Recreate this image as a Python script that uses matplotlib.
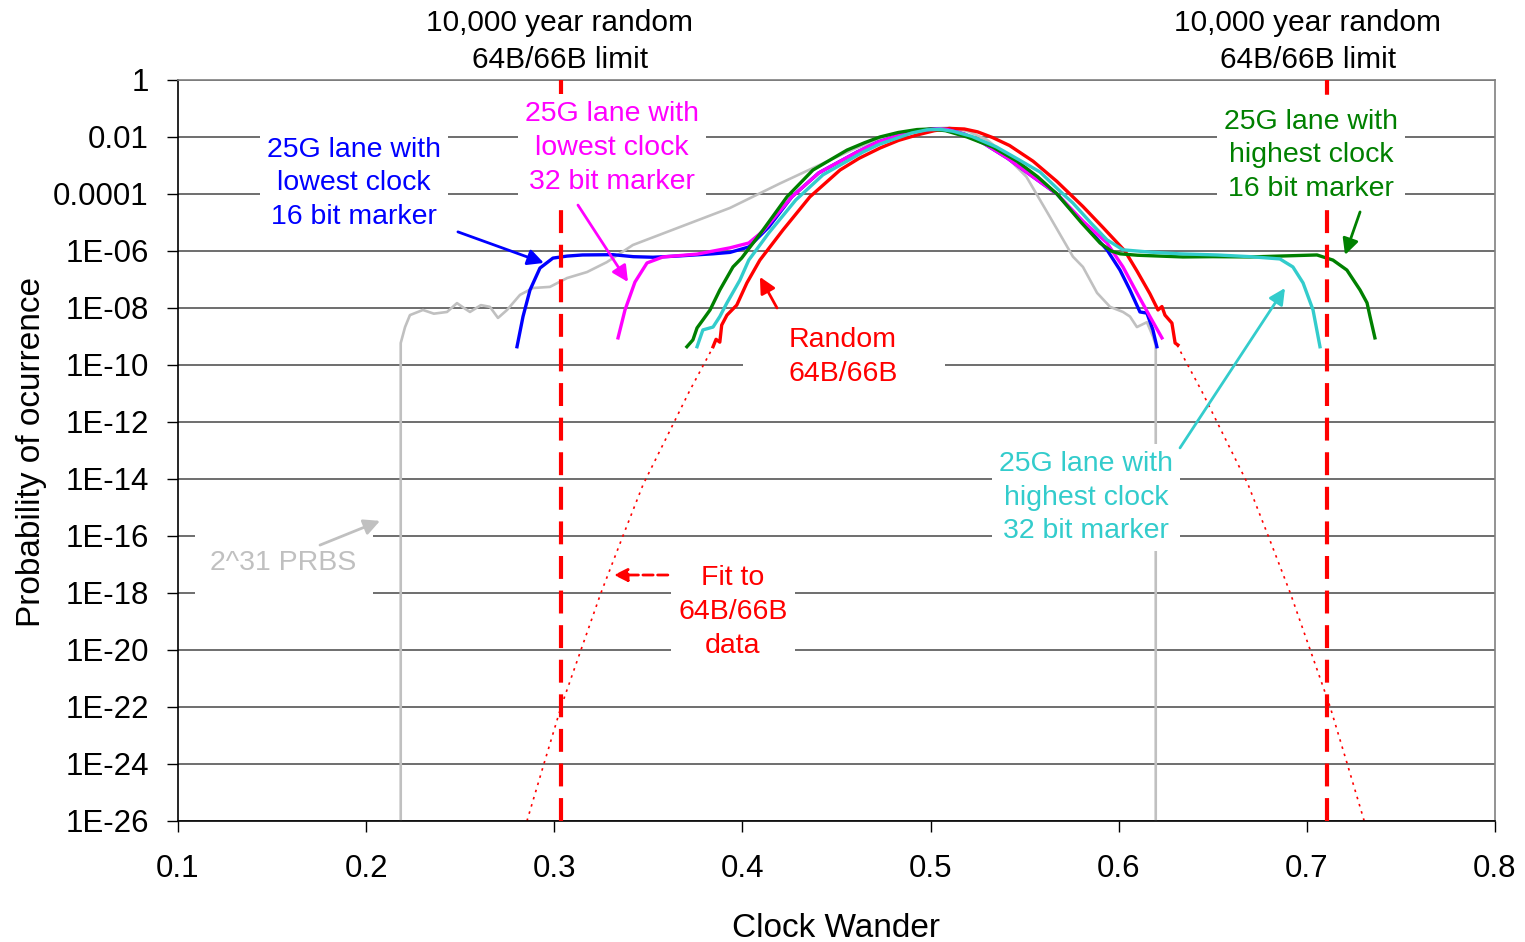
# -*- coding: utf-8 -*-
"""
Clock wander distribution of 25G lanes with alignment markers
compared with random 64B/66B data (log probability plot)
"""
# =============================     Import modules     =====================
import numpy as np
import matplotlib
matplotlib.use('Agg')
import matplotlib.pyplot as plt
from matplotlib.ticker import FixedLocator, NullLocator
from matplotlib.patches import Rectangle

# =============================     Data     ==============
# -- x = clock wander, exp = log10(probability of occurrence)
prbs_x   = [0.2184, 0.2184, 0.2207, 0.2233, 0.2302, 0.2360, 0.2430, 0.2483,
            0.2520, 0.2552, 0.2610, 0.2658, 0.2701, 0.2749, 0.2818, 0.2887,
            0.2977, 0.3068, 0.3174, 0.3280, 0.3418, 0.3668, 0.3934, 0.4200,
            0.4466, 0.4600, 0.4750, 0.4900, 0.5000, 0.5100, 0.5200, 0.5300,
            0.5370, 0.5510, 0.5635, 0.5757, 0.5810, 0.5885, 0.5954, 0.6023,
            0.6060, 0.6097, 0.6150, 0.6182, 0.6197, 0.6197]
prbs_exp = [-26.0, -9.23, -8.67, -8.25, -8.07, -8.20, -8.14, -7.83,
            -8.00, -8.14, -7.90, -7.96, -8.35, -8.07, -7.54, -7.30,
            -7.26, -6.95, -6.74, -6.39, -5.79, -5.16, -4.49, -3.63,
            -2.81, -2.40, -2.05, -1.80, -1.70, -1.68, -1.80, -2.10,
            -2.46, -3.40, -4.81, -6.20, -6.56, -7.47, -7.96, -8.14,
            -8.30, -8.67, -8.50, -9.00, -9.30, -26.0]

rnd_x   = [0.3844, 0.3860, 0.3880, 0.3890, 0.3918, 0.3970, 0.4024, 0.4093,
           0.4216, 0.4359, 0.4519, 0.4620, 0.4731, 0.4830, 0.4928, 0.5020,
           0.5100, 0.5180, 0.5250, 0.5330, 0.5420, 0.5545, 0.5670, 0.5810,
           0.5920, 0.6033, 0.6097, 0.6166, 0.6209, 0.6230, 0.6246, 0.6283,
           0.6300, 0.6315]
rnd_exp = [-9.36, -9.10, -9.20, -8.60, -8.25, -7.90, -7.12, -6.32,
           -5.26, -4.10, -3.16, -2.75, -2.39, -2.12, -1.93, -1.78,
           -1.70, -1.72, -1.82, -2.02, -2.30, -2.85, -3.55, -4.44,
           -5.20, -6.00, -6.70, -7.50, -8.07, -7.95, -8.25, -8.53,
           -9.23, -9.30]

lo16_x   = [0.2802, 0.2834, 0.2871, 0.2924, 0.2993, 0.3068, 0.3150, 0.3312,
            0.3420, 0.3525, 0.3650, 0.3844, 0.3934, 0.4034, 0.4140, 0.4263,
            0.4406, 0.4609, 0.4720, 0.4838, 0.4930, 0.5013, 0.5090, 0.5180,
            0.5279, 0.5410, 0.5545, 0.5672, 0.5810, 0.5938, 0.6007, 0.6060,
            0.6113, 0.6150, 0.6182, 0.6203]
lo16_exp = [-9.36, -8.30, -7.37, -6.60, -6.25, -6.18, -6.14, -6.13,
            -6.20, -6.22, -6.18, -6.10, -6.05, -5.86, -5.16, -4.10,
            -3.26, -2.53, -2.18, -1.93, -1.78, -1.72, -1.74, -1.90,
            -2.21, -2.75, -3.40, -4.00, -5.02, -5.96, -6.67, -7.37,
            -8.14, -8.18, -8.77, -9.36]

lo32_x   = [0.3339, 0.3376, 0.3429, 0.3493, 0.3578, 0.3759, 0.3934, 0.4034,
            0.4110, 0.4263, 0.4406, 0.4609, 0.4720, 0.4838, 0.4930, 0.5013,
            0.5090, 0.5180, 0.5279, 0.5410, 0.5545, 0.5672, 0.5810, 0.5938,
            0.6023, 0.6097, 0.6166, 0.6230]
lo32_exp = [-9.05, -8.07, -7.09, -6.42, -6.21, -6.11, -5.89, -5.72,
            -5.30, -4.10, -3.26, -2.53, -2.18, -1.93, -1.78, -1.72,
            -1.74, -1.90, -2.21, -2.75, -3.40, -4.00, -4.95, -5.72,
            -6.56, -7.47, -8.30, -9.05]

hi16_x   = [0.3705, 0.3737, 0.3759, 0.3790, 0.3828, 0.3880, 0.3950, 0.3996,
            0.4110, 0.4237, 0.4375, 0.4556, 0.4650, 0.4731, 0.4830, 0.4928,
            0.5000, 0.5080, 0.5194, 0.5330, 0.5460, 0.5570, 0.5672, 0.5801,
            0.5901, 0.5960, 0.6007, 0.6100, 0.6342, 0.6500, 0.6698, 0.6900,
            0.7054, 0.7139, 0.7213, 0.7283, 0.7320, 0.7336, 0.7362]
hi16_exp = [-9.36, -9.12, -8.70, -8.42, -8.07, -7.37, -6.56, -6.25,
            -5.26, -4.10, -3.16, -2.46, -2.20, -2.00, -1.84, -1.74,
            -1.72, -1.78, -2.00, -2.35, -2.85, -3.40, -4.00, -5.00,
            -5.72, -6.00, -6.10, -6.15, -6.21, -6.20, -6.21, -6.17,
            -6.14, -6.32, -6.67, -7.37, -7.82, -8.30, -9.05]

hi32_x   = [0.3759, 0.3790, 0.3844, 0.3880, 0.3918, 0.3987, 0.4034, 0.4140,
            0.4284, 0.4428, 0.4641, 0.4730, 0.4822, 0.4900, 0.4981, 0.5050,
            0.5120, 0.5220, 0.5350, 0.5470, 0.5582, 0.5704, 0.5757, 0.5850,
            0.5938, 0.6023, 0.6166, 0.6322, 0.6522, 0.6700, 0.6857, 0.6926,
            0.6980, 0.7033, 0.7070]
hi32_exp = [-9.36, -8.77, -8.67, -8.30, -7.82, -7.02, -6.32, -5.37,
            -4.21, -3.33, -2.53, -2.25, -2.04, -1.86, -1.75, -1.73,
            -1.80, -1.98, -2.35, -2.80, -3.23, -4.00, -4.32, -5.00,
            -5.61, -5.96, -6.04, -6.10, -6.14, -6.20, -6.28, -6.56,
            -7.12, -8.07, -9.36]

# -- Fit to 64B/66B data (only tails visible)
fitl_x   = [0.2855, 0.2945, 0.3036, 0.3142, 0.3248, 0.3365, 0.3472, 0.3600,
            0.3720, 0.3850]
fitl_exp = [-26.0, -24.0, -22.0, -20.0, -18.0, -16.0, -14.2, -12.5,
            -10.9, -9.30]
fitr_x   = [0.6310, 0.6440, 0.6560, 0.6688, 0.6795, 0.6912, 0.7018, 0.7124,
            0.7215, 0.7305]
fitr_exp = [-9.30, -10.9, -12.5, -14.2, -16.0, -18.0, -20.0, -22.0,
            -24.0, -26.0]

# -- 10,000 year random 64B/66B limits
limit_x = [0.3036, 0.7107]

# -- Axis ticks
x_ticks   = [0.1, 0.2, 0.3, 0.4, 0.5, 0.6, 0.7, 0.8]
y_exps    = list(range(0, -27, -2))
y_labels  = ['1', '0.01', '0.0001'] + ['1E-%02d' % (-e) for e in y_exps[3:]]

# =============================     Plot settings     ======================
plt.rcParams['font.family'] = ['Liberation Sans', 'DejaVu Sans']
fs_tick  = 22.5
fs_lab   = 24
fs_note  = 20.5
fs_top   = 21.5
lsp      = 1.38   # line spacing of multi-line labels
lw_data  = 2.4

c_blue = '#0000FF'
c_mag  = '#FF00FF'
c_red  = '#FF0000'
c_grn  = '#008000'
c_cyan = '#33CCCC'
c_gray = '#C0C0C0'

fig = plt.figure(figsize=(15.25, 9.42), dpi=100)
ax  = fig.add_axes([0.1167, 0.1285, 0.8636, 0.7866])


def p(vals):
    return 10.0 ** np.array(vals)


# -- Data curves
ax.plot(prbs_x, p(prbs_exp), color=c_gray, lw=1.9, zorder=2)
ax.plot(fitl_x, p(fitl_exp), color=c_red, lw=1.2, ls=(0, (1.5, 3.0)), zorder=2)
ax.plot(fitr_x, p(fitr_exp), color=c_red, lw=1.2, ls=(0, (1.5, 3.0)), zorder=2)
ax.plot(rnd_x, p(rnd_exp), color=c_red, lw=lw_data, zorder=3)
ax.plot(lo16_x, p(lo16_exp), color=c_blue, lw=lw_data, zorder=3)
ax.plot(lo32_x, p(lo32_exp), color=c_mag, lw=lw_data, zorder=3)
ax.plot(hi16_x, p(hi16_exp), color=c_grn, lw=lw_data, zorder=3)
ax.plot(hi32_x, p(hi32_exp), color=c_cyan, lw=lw_data, zorder=3)

# -- Limit lines
for lx in limit_x:
    ax.axvline(lx, color=c_red, lw=3.0, ls=(0, (5.5, 2.8)), zorder=4)

# -- Axes
ax.set_yscale('log')
ax.set_xlim(0.1, 0.8)
ax.set_ylim(1e-26, 1)
ax.yaxis.set_major_locator(FixedLocator([10.0 ** e for e in y_exps]))
ax.yaxis.set_minor_locator(NullLocator())
ax.set_yticklabels(y_labels)
ax.set_xticks(x_ticks)
ax.set_xticklabels(['%.1f' % v for v in x_ticks])
ax.tick_params(axis='both', which='major', direction='out', length=8,
               width=1.0, labelsize=fs_tick, colors='black')
ax.tick_params(axis='y', pad=13)
ax.tick_params(axis='x', pad=16)
ax.yaxis.grid(True, color='#555555', lw=1.2, zorder=0)
ax.set_axisbelow(True)
for side in ['left', 'bottom']:
    ax.spines[side].set_color('black')
    ax.spines[side].set_linewidth(1.2)
for side in ['top', 'right']:
    ax.spines[side].set_color('#808080')
    ax.spines[side].set_linewidth(1.2)

ax.set_xlabel('Clock Wander', fontsize=fs_lab, va='center')
ax.xaxis.set_label_coords(0.4996, -0.1455)
ax.set_ylabel('Probability of ocurrence', fontsize=fs_lab, va='center')
ax.yaxis.set_label_coords(-0.1115, 0.498)

# -- Top labels
top_txt = '10,000 year random\n64B/66B limit'
for tx in [0.3030, 0.7006]:
    ax.text(tx, 1.052, top_txt, transform=ax.get_xaxis_transform(),
            ha='center', va='center', fontsize=fs_top, color='black',
            linespacing=lsp)

# -- Annotations: text, text position, arrow tail, arrow head (x, exp)
box = dict(boxstyle='square,pad=0.25', fc='white', ec='none')
notes = [
    ('25G lane with\nlowest clock\n16 bit marker', c_blue,
     (0.1935, -3.63), (0.2488, -5.33), (0.2945, -6.42)),
    ('25G lane with\nlowest clock\n32 bit marker', c_mag,
     (0.3307, -2.39), (0.3126, -4.39), (0.3392, -7.09)),
    ('25G lane with\nhighest clock\n16 bit marker', c_grn,
     (0.7022, -2.64), (0.7283, -4.63), (0.7203, -6.14)),
    ('25G lane with\nhighest clock\n32 bit marker', c_cyan,
     (0.5826, -14.66), (0.6326, -12.91), (0.6884, -7.30)),
]
for txt, clr, pos, tail, head in notes:
    ax.text(pos[0], 10.0 ** pos[1], txt, ha='center', va='center',
            fontsize=fs_note, color=clr, bbox=box, zorder=6, linespacing=lsp)
    ax.annotate('', xy=(head[0], 10.0 ** head[1]),
                xytext=(tail[0], 10.0 ** tail[1]),
                arrowprops=dict(arrowstyle='-|>', color=clr, lw=2.0,
                                mutation_scale=24, shrinkA=0, shrinkB=0),
                zorder=7)

# -- Random 64B/66B (wide white box)
ax.add_patch(Rectangle((0.429, 0.575), 0.1534, 0.0944, transform=ax.transAxes,
                       fc='white', ec='none', zorder=5))
ax.text(0.4535, 10.0 ** -9.72, 'Random\n64B/66B', ha='center', va='center',
        fontsize=fs_note, color=c_red, zorder=6, linespacing=lsp)
ax.annotate('', xy=(0.4093, 10.0 ** -6.91), xytext=(0.4184, 10.0 ** -8.0),
            arrowprops=dict(arrowstyle='-|>', color=c_red, lw=2.0,
                            mutation_scale=24, shrinkA=0, shrinkB=0),
            zorder=7)

# -- Fit label with dashed arrow
ax.text(0.395, 10.0 ** -18.67, 'Fit to\n64B/66B\ndata', ha='center',
        va='center', fontsize=fs_note, color=c_red, bbox=box, zorder=6,
        linespacing=lsp)
ax.annotate('', xy=(0.3317, 10.0 ** -17.37), xytext=(0.3604, 10.0 ** -17.37),
            arrowprops=dict(arrowstyle='-|>', color=c_red, lw=2.0, ls='--',
                            mutation_scale=20, shrinkA=0, shrinkB=0),
            zorder=7)

# -- 2^31 PRBS label (tall white box)
ax.add_patch(Rectangle((0.0129, 0.2982), 0.1351, 0.0972, transform=ax.transAxes,
                       fc='white', ec='none', zorder=5))
ax.text(0.1558, 10.0 ** -16.95, '2^31 PRBS', ha='center', va='center',
        fontsize=fs_note, color=c_gray, zorder=6)
ax.annotate('', xy=(0.2074, 10.0 ** -15.47), xytext=(0.1755, 10.0 ** -16.32),
            arrowprops=dict(arrowstyle='-|>', color=c_gray, lw=2.0,
                            mutation_scale=24, shrinkA=0, shrinkB=0),
            zorder=7)

# -- Save plot
plt.savefig('out.png', format='png', dpi=100)
plt.close(fig)
